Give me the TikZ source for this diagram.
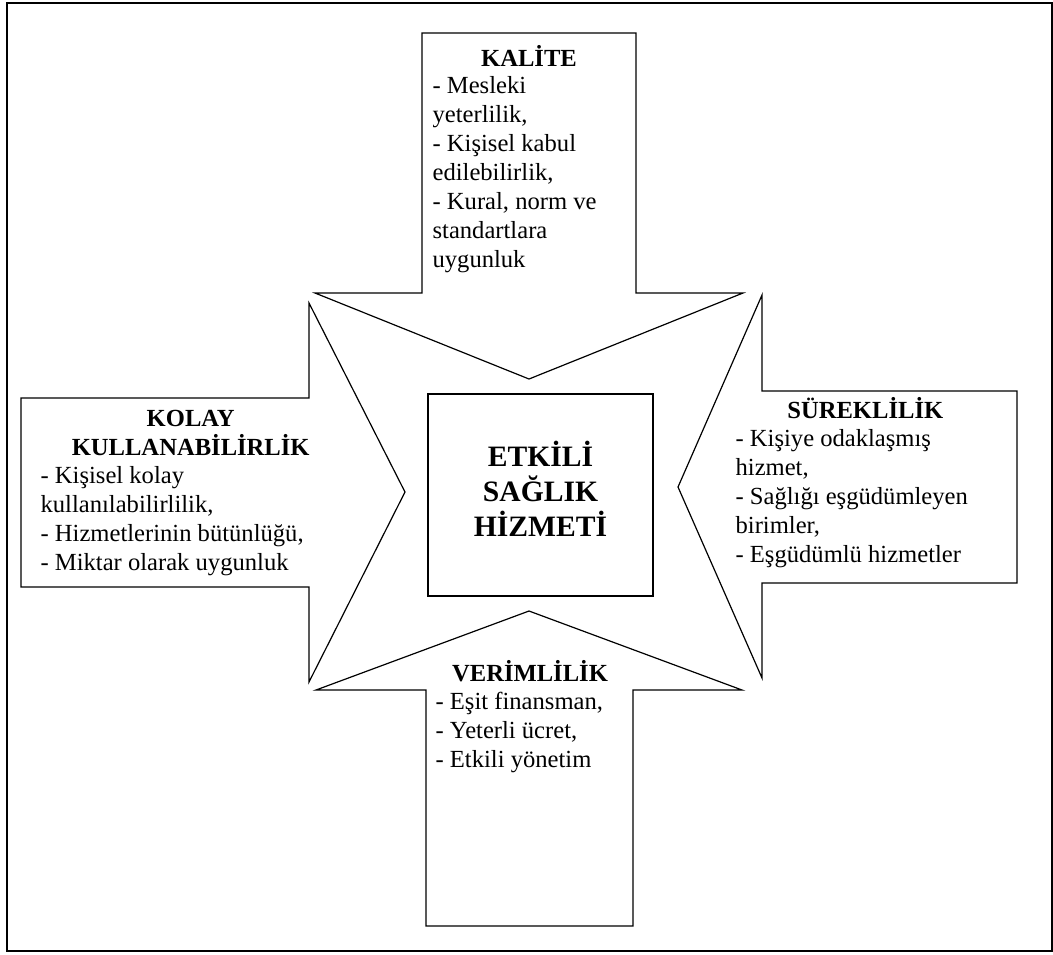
\documentclass[tikz,border=0pt]{standalone}
\usepackage{fontspec}
\setmainfont{Liberation Serif}

\begin{document}
\begin{tikzpicture}[x=0.5pt, y=-0.5pt, line width=0.6pt,
        baslik/.style={font=\fontsize{12.3}{14.5}\selectfont\bfseries, align=center, anchor=base, inner sep=0pt},
        madde/.style={font=\fontsize{12.3}{14.5}\selectfont, align=left, anchor=base west, inner sep=0pt}]

        \useasboundingbox (0,0) rectangle (1053,954);

        % Frame
        \draw[line width=1.2pt] (7,3) rectangle (1052,951);

        % Arrow from above (base = last line)
        \draw (422,33) -- (636,33) -- (636,293) -- (743,293) -- (529,379) -- (315,293) -- (422,293) -- cycle;
        \node[baslik] (kalite) at (529,66) {KAL\.ITE};
        \node[madde] (kaliteText) at (432,267) {- Mesleki\\yeterlilik,\\- Kişisel kabul\\edilebilirlik,\\- Kural, norm ve\\standartlara\\uygunluk};

        % Arrow from the left
        \draw (21,398) -- (309,398) -- (309,303) -- (405,492) -- (309,682) -- (309,587) -- (21,587) -- cycle;
        \node[baslik] (kolay) at (190.7,455) {KOLAY\\KULLANAB\.IL\.IRL\.IK};
        \node[madde] (kolayText) at (40,570) {- Kişisel kolay\\kullanılabilirlilik,\\- Hizmetlerinin bütünlüğü,\\- Miktar olarak uygunluk};

        % Arrow from the right
        \draw (1017,391) -- (762,391) -- (762,295) -- (678,487) -- (762,678) -- (762,583) -- (1017,583) -- cycle;
        \node[baslik] (sureklilik) at (865.3,418.3) {SÜREKL\.IL\.IK};
        \node[madde] (surekliText) at (735,562.7) {- Kişiye odaklaşmış\\hizmet,\\- Sağlığı eşgüdümleyen\\birimler,\\- Eşgüdümlü hizmetler};

        % Arrow from below
        \draw (529,611) -- (742,690) -- (633,690) -- (633,926) -- (426,926) -- (426,690) -- (316,690) -- cycle;
        \node[baslik] (verimlilik) at (530,681) {VER\.IML\.IL\.IK};
        \node[madde] (verimText) at (435,767) {- Eşit finansman,\\- Yeterli ücret,\\- Etkili yönetim};

        % Centre
        \draw (428,394) rectangle (653,596);
        \node[baslik, font=\fontsize{14.8}{17.6}\selectfont\bfseries] (etkili) at (540.5,536.7) {ETK\.IL\.I\\SAĞLIK\\H\.IZMET\.I};

\end{tikzpicture}
\end{document}
